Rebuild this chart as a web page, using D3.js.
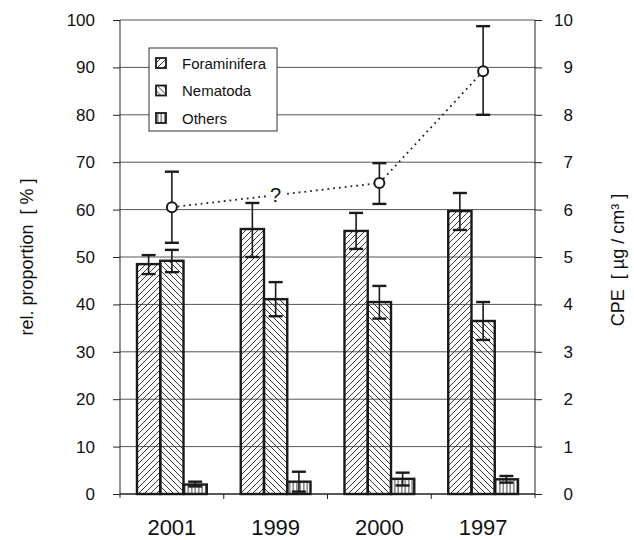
<!DOCTYPE html>
<html>
<head>
<meta charset="utf-8">
<script src="https://cdn.jsdelivr.net/npm/d3@7"></script>
<style>
  body { margin: 0; background: #fff; }
  svg text { font-family: "Liberation Sans", Arial, sans-serif; fill: #111; }
</style>
</head>
<body>
<div class="chart"></div>
<script>
(function() {
    'use strict';

    // DATA *************************************************************
    var years = ['2001', '1999', '2000', '1997'];
    var seriesNames = ['Foraminifera', 'Nematoda', 'Others'];

    var foram     = [48.5, 55.9, 55.5, 59.7];
    var foramLow  = [46.4, 50.0, 51.7, 55.7];
    var foramHigh = [50.4, 61.4, 59.3, 63.5];

    var nema      = [49.2, 41.1, 40.5, 36.5];
    var nemaLow   = [46.8, 37.5, 37.0, 32.5];
    var nemaHigh  = [51.5, 44.7, 43.9, 40.5];

    var others     = [2.0, 2.6, 3.2, 3.1];
    var othersLow  = [1.6, 0.5, 1.8, 2.4];
    var othersHigh = [2.6, 4.7, 4.5, 3.8];

    // CPE, right axis (no value for 1999)
    var cpe     = [6.05, null, 6.56, 8.92];
    var cpeLow  = [5.3,  null, 6.12, 8.0];
    var cpeHigh = [6.8,  null, 6.98, 9.87];

    var leftTicks = [0, 10, 20, 30, 40, 50, 60, 70, 80, 90, 100];
    var rightTicks = [0, 1, 2, 3, 4, 5, 6, 7, 8, 9, 10];

    // build rows
    var values = [foram, nema, others], lows = [foramLow, nemaLow, othersLow], highs = [foramHigh, nemaHigh, othersHigh];
    var bars = [];
    years.forEach(function(y, i) {
        seriesNames.forEach(function(s, j) {
            bars.push({year: y, key: s, value: values[j][i], lo: lows[j][i], hi: highs[j][i]});
        });
    });
    var cpePoints = years.map(function(y, i) {
        return {year: y, value: cpe[i], lo: cpeLow[i], hi: cpeHigh[i]};
    }).filter(function(d) { return d.value !== null; });

    // MARGINS **********************************************************
    var W = 634, H = 540;
    var margin = {top: 20, right: 99, bottom: 46, left: 120};
    var width = W - margin.left - margin.right,
        height = H - margin.top - margin.bottom;

    var root = d3.select('.chart').append('svg')
        .attr('width', W).attr('height', H);
    var svg = root.append('g')
        .attr('transform', 'translate(' + margin.left + ',' + margin.top + ')');

    // PATTERNS
    var defs = root.append('defs');
    var pat = function(id, w, h, d) {
        defs.append('pattern')
            .attr('id', id)
            .attr('patternUnits', 'userSpaceOnUse')
            .attr('width', w).attr('height', h)
          .append('path')
            .attr('d', d)
            .attr('stroke', '#222')
            .attr('stroke-width', 0.9)
            .attr('fill', 'none');
    };
    pat('p-foram', 6, 6, 'M0,6L6,0M-1,1L1,-1M5,7L7,5');
    pat('p-nema', 6, 6, 'M0,0L6,6M-1,5L1,7M5,-1L7,1');
    pat('p-others', 3.5, 6, 'M1.75,0V6');
    var fills = {Foraminifera: 'url(#p-foram)', Nematoda: 'url(#p-nema)', Others: 'url(#p-others)'};

    // SCALES
    var x0 = d3.scaleBand().domain(years).range([0, width]);
    var x1 = d3.scaleBand().domain(seriesNames).range([0, x0.bandwidth()]).paddingOuter(0.73);
    var y = d3.scaleLinear().domain([0, 100]).range([height, 0]);
    var y2 = d3.scaleLinear().domain([0, 10]).range([height, 0]);

    // GRIDLINES
    svg.append('g').selectAll('line')
        .data(leftTicks.slice(1))
        .enter().append('line')
        .attr('x1', 0).attr('x2', width)
        .attr('y1', function(d) { return y(d); })
        .attr('y2', function(d) { return y(d); })
        .attr('stroke', '#555').attr('stroke-width', 1);

    // AXES
    var yAxisG = svg.append('g')
        .call(d3.axisLeft(y).tickValues(leftTicks).tickSize(7).tickPadding(18).tickSizeOuter(0));
    var y2AxisG = svg.append('g')
        .attr('transform', 'translate(' + width + ',0)')
        .call(d3.axisRight(y2).tickValues(rightTicks).tickSize(7).tickPadding(13).tickSizeOuter(0));
    [yAxisG, y2AxisG].forEach(function(g) {
        g.select('.domain').attr('stroke', '#222').attr('d', 'M0,0V' + (height + 4));
        g.selectAll('.tick line').attr('stroke', '#222');
        g.selectAll('.tick text').style('font-size', '17px').attr('fill', '#111');
    });
    y2AxisG.selectAll('.tick text').attr('text-anchor', 'end').attr('x', 38);

    // x axis baseline, interior ticks and year labels
    svg.append('line')
        .attr('x1', 0).attr('x2', width)
        .attr('y1', height).attr('y2', height)
        .attr('stroke', '#222').attr('stroke-width', 1.5);
    svg.append('g').selectAll('line')
        .data(years.slice(1))
        .enter().append('line')
        .attr('x1', function(d) { return x0(d); })
        .attr('x2', function(d) { return x0(d); })
        .attr('y1', height).attr('y2', height + 5)
        .attr('stroke', '#222');
    svg.append('g').selectAll('text')
        .data(years)
        .enter().append('text')
        .attr('x', function(d) { return x0(d) + x0.bandwidth() / 2; })
        .attr('y', height + 41)
        .attr('text-anchor', 'middle')
        .style('font-size', '22px')
        .text(function(d) { return d; });

    // AXIS TITLES
    root.append('text')
        .attr('transform', 'translate(33,257) rotate(-90)')
        .attr('text-anchor', 'middle')
        .style('font-size', '18px')
        .attr('xml:space', 'preserve')
        .text('rel. proportion  [ % ]');
    root.append('text')
        .attr('transform', 'translate(624,260) rotate(-90)')
        .attr('text-anchor', 'middle')
        .style('font-size', '18px')
        .attr('xml:space', 'preserve')
        .text('CPE  [ µg / cm³ ]');

    // BARS
    var barX = function(d) { return x0(d.year) + x1(d.key); };
    svg.append('g').selectAll('rect')
        .data(bars)
        .enter().append('rect')
        .attr('x', barX)
        .attr('width', x1.bandwidth())
        .attr('y', function(d) { return y(d.value); })
        .attr('height', function(d) { return height - y(d.value); })
        .attr('fill', function(d) { return fills[d.key]; })
        .attr('stroke', '#1a1a1a')
        .attr('stroke-width', 2.4);

    // ERROR BARS
    var cap = 7;
    var drawErr = function(g, data, cx, sc) {
        var e = g.selectAll('g').data(data).enter().append('g')
            .attr('stroke', '#1a1a1a').attr('stroke-width', 2);
        e.append('line')
            .attr('x1', cx).attr('x2', cx)
            .attr('y1', function(d) { return sc(d.lo); })
            .attr('y2', function(d) { return sc(d.hi); })
            .attr('stroke-width', 1.6);
        ['lo', 'hi'].forEach(function(k) {
            e.append('line')
                .attr('x1', function(d) { return cx(d) - cap; })
                .attr('x2', function(d) { return cx(d) + cap; })
                .attr('y1', function(d) { return sc(d[k]); })
                .attr('y2', function(d) { return sc(d[k]); })
                .attr('stroke-width', 2.4);
        });
    };
    drawErr(svg.append('g'), bars, function(d) { return barX(d) + x1.bandwidth() / 2; }, y);

    // CPE LINE
    var cx = function(d) { return x0(d.year) + x0.bandwidth() / 2; };
    var line = d3.line()
        .x(cx)
        .y(function(d) { return y2(d.value); });
    svg.append('path')
        .datum(cpePoints)
        .attr('d', line)
        .attr('fill', 'none')
        .attr('stroke', '#222')
        .attr('stroke-width', 1.8)
        .attr('stroke-dasharray', '1.8,4');

    // question mark for missing 1999 value
    var qx = x0('1999') + x0.bandwidth() / 2;
    var qy = (y2(cpe[0]) + y2(cpe[2])) / 2;
    svg.append('text')
        .attr('x', qx).attr('y', qy + 7)
        .attr('text-anchor', 'middle')
        .style('font-size', '20px')
        .style('paint-order', 'stroke')
        .attr('stroke', '#fff').attr('stroke-width', 8)
        .text('?');

    drawErr(svg.append('g'), cpePoints, cx, y2);
    svg.append('g').selectAll('circle')
        .data(cpePoints)
        .enter().append('circle')
        .attr('cx', cx)
        .attr('cy', function(d) { return y2(d.value); })
        .attr('r', 5)
        .attr('fill', '#fff')
        .attr('stroke', '#1a1a1a')
        .attr('stroke-width', 2);

    // LEGEND
    var legend = svg.append('g').attr('transform', 'translate(29,28)');
    legend.append('rect')
        .attr('width', 128).attr('height', 83)
        .attr('fill', '#fff')
        .attr('stroke', '#333').attr('stroke-width', 1);
    var items = legend.selectAll('g.item')
        .data(seriesNames)
        .enter().append('g')
        .attr('class', 'item')
        .attr('transform', function(d, i) { return 'translate(7,' + (15 + i * 27.5) + ')'; });
    items.append('rect')
        .attr('x', 0).attr('y', -5)
        .attr('width', 10).attr('height', 10)
        .attr('fill', function(d) { return fills[d]; })
        .attr('stroke', '#1a1a1a').attr('stroke-width', 1.8);
    items.append('text')
        .attr('x', 26).attr('y', 5.5)
        .style('font-size', '15px')
        .text(function(d) { return d; });

}());
</script>
</body>
</html>
